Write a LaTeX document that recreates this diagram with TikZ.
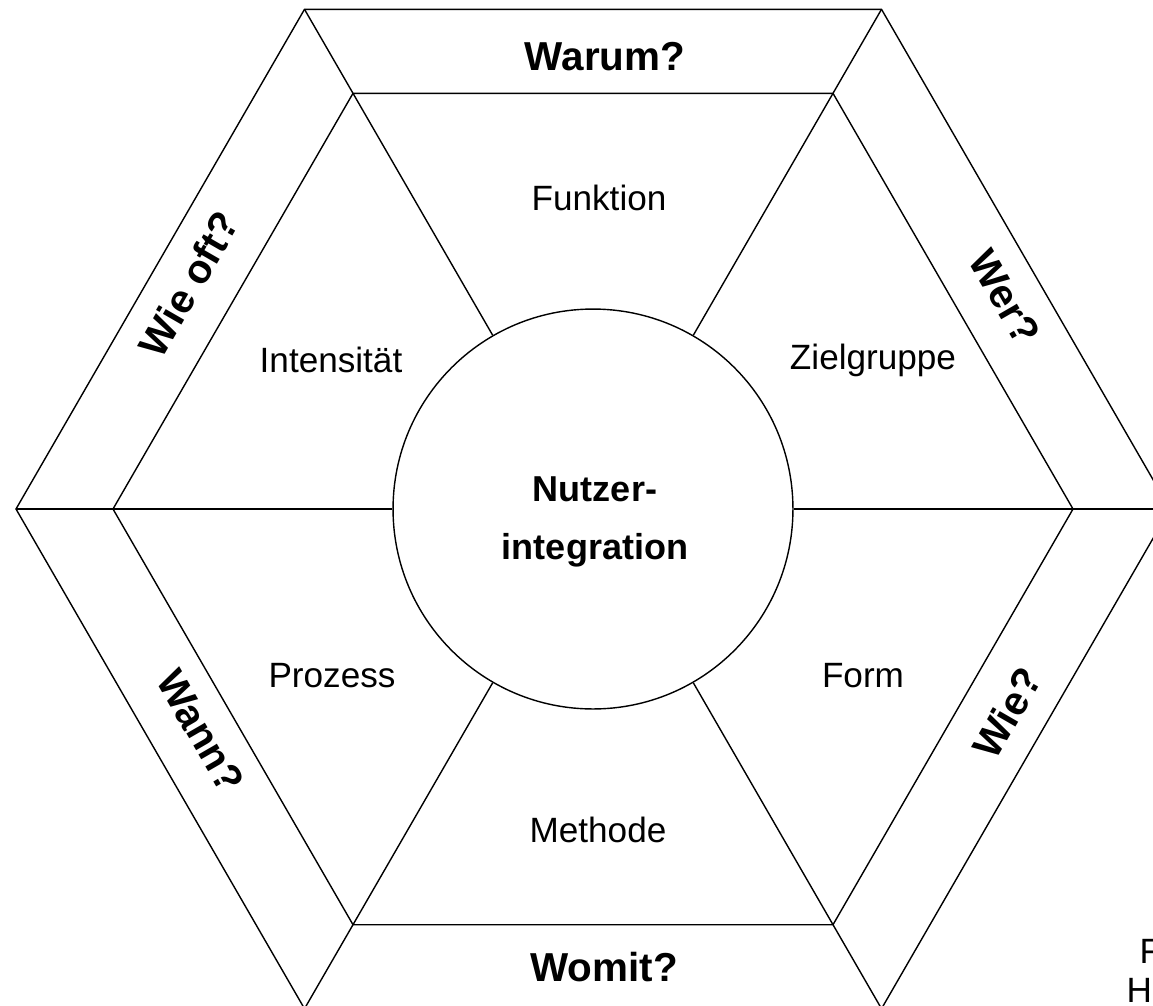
\documentclass[tikz,border=0pt]{standalone}
\usepackage{fontspec}
\setmainfont{Liberation Sans}
\usetikzlibrary{calc}

\begin{document}
\begin{tikzpicture}[x=0.02cm, y=-0.02cm, line width=0.8pt,
    question/.style={font=\fontsize{23}{27}\selectfont\bfseries},
    aspect/.style={font=\fontsize{20}{24}\selectfont}]
    \useasboundingbox (0,0) rectangle (1153,1005);
    \coordinate (c) at (593,509);

    % Hexagon corners
    \foreach \k in {1,...,6} {
        \coordinate (o\k) at ($(c)+(\k*60-60:577)$);
        \coordinate (i\k) at ($(c)+(\k*60-60:480)$);
    }

    % Outer and inner hexagon
    \draw (o1) -- (o2) -- (o3) -- (o4) -- (o5) -- (o6) -- cycle;
    \draw (i1) -- (i2) -- (i3) -- (i4) -- (i5) -- (i6) -- cycle;
    \foreach \k in {1,...,6}
        \draw (o\k) -- (i\k);

    % Centre circle and spokes
    \node[circle, draw, minimum size=8cm, inner sep=0pt] (nutzer) at (c) {};
    \foreach \k in {1,...,6}
        \draw (nutzer) -- (i\k);
    \node[align=center, font=\fontsize{20.5}{33}\selectfont\bfseries] (nutzerlbl) at (595,522) {Nutzer-\\integration};

    % Inner fields
    \node[aspect] (funktion) at (599,198) {Funktion};
    \node[aspect] (intens) at (331,360) {Intensität};
    \node[aspect] (ziel) at (873,360) {Zielgruppe};
    \node[aspect] (prozess) at (332,676) {Prozess};
    \node[aspect] (form) at (863,676) {Form};
    \node[aspect] (methode) at (598,830) {Methode};

    % Outer questions
    \node[question] (warum) at (605,57) {Warum?};
    \node[question] (womit) at (604,967) {Womit?};
    \node[question, rotate=60] (wieoft) at (189,284) {Wie oft?};
    \node[question, rotate=-60] (wer) at (1005,297) {Wer?};
    \node[question, rotate=-60] (wann) at (201,731) {Wann?};
    \node[question, rotate=60] (wie) at (1007,713) {Wie?};

    % Cut-off note
    \node[aspect, anchor=base west, inner sep=0pt] (noteA) at (1139,963) {F};
    \node[aspect, anchor=base west, inner sep=0pt] (noteB) at (1126,1002) {Ho};
\end{tikzpicture}
\end{document}
